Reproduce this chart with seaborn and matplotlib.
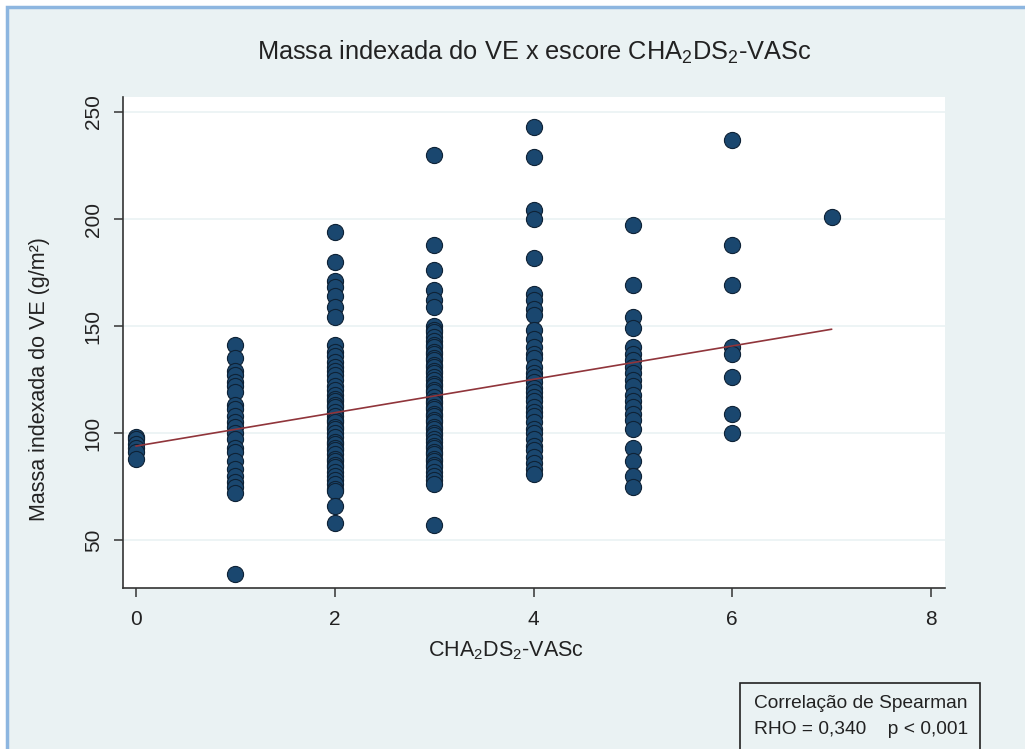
import numpy as np
import pandas as pd
import matplotlib
matplotlib.use("Agg")
import matplotlib.pyplot as plt
from matplotlib.patches import Rectangle
import seaborn as sns

# LV mass index (g/m²) grouped by CHA2DS2-VASc score
mass_score0 = [98, 97, 95, 93, 91, 88]
mass_score1 = [141, 135, 129, 127, 124, 122, 119, 113, 111, 108, 105, 103, 100,
               97, 93, 91, 87, 83, 80, 77, 75, 72, 34]
mass_score2 = [194, 180, 171, 168, 164, 159, 154, 141, 138, 136, 133, 131, 129,
               127, 125, 122, 120, 118, 116, 115, 113, 112, 110, 108, 106, 105,
               103, 102, 100, 98, 96, 95, 93, 92, 90, 88, 87, 85, 84, 82, 80, 78,
               76, 74, 73, 66, 58]
mass_score3 = [230, 188, 176, 167, 162, 159, 150, 148, 147, 145, 143, 141, 140,
               138, 137, 135, 134, 132, 131, 129, 128, 126, 125, 123, 122, 120,
               119, 117, 115, 114, 112, 111, 109, 108, 106, 105, 103, 102, 100,
               99, 97, 96, 94, 93, 91, 90, 88, 87, 85, 84, 82, 80, 78, 76, 57]
mass_score4 = [243, 229, 204, 200, 182, 165, 162, 158, 155, 148, 144, 140, 137,
               135, 131, 128, 126, 124, 121, 119, 117, 115, 112, 110, 108, 105,
               102, 100, 97, 94, 92, 89, 86, 83, 81]
mass_score5 = [197, 169, 154, 149, 140, 137, 134, 131, 128, 125, 122, 118, 115,
               112, 109, 106, 102, 93, 87, 80, 75]
mass_score6 = [237, 188, 169, 140, 137, 126, 109, 100]
mass_score7 = [201]

scores = [0, 1, 2, 3, 4, 5, 6, 7]
mass_groups = [mass_score0, mass_score1, mass_score2, mass_score3,
               mass_score4, mass_score5, mass_score6, mass_score7]

# Linear fit line (fitted values at the ends of the score range)
fit_score = [0, 7]
fit_mass = [93.9, 148.5]

x_ticks = [0, 2, 4, 6, 8]
y_ticks = [50, 100, 150, 200, 250]

title_text = "Massa indexada do VE x escore CHA$_2$DS$_2$-VASc"
x_label = "CHA$_2$DS$_2$-VASc"
y_label = "Massa indexada do VE (g/m²)"
note_lines = ["Correlação de Spearman", "RHO = 0,340    p < 0,001"]

df = pd.DataFrame({
    "score": np.concatenate([[s] * len(g) for s, g in zip(scores, mass_groups)]),
    "mass": np.concatenate(mass_groups),
})
fit_df = pd.DataFrame({"score": fit_score, "mass": fit_mass})

sns.set_theme(style="white")
plt.rcParams["font.family"] = ["Liberation Sans", "DejaVu Sans"]
plt.rcParams["mathtext.default"] = "regular"

bg = "#EAF2F3"
ink = "#222222"
W, H = 1025, 749
fig = plt.figure(figsize=(W / 100, H / 100), dpi=100, facecolor="white")

# Light panel with a blue frame line on top and left
fig.patches.append(Rectangle((7 / W, -0.05), 1.1, 1 - 6.5 / H + 0.05,
                             transform=fig.transFigure, facecolor=bg,
                             edgecolor="#8DB6E0", linewidth=2.5, zorder=-5))

ax = fig.add_axes([123 / W, 1 - 588 / H, (945 - 123) / W, (588 - 97) / H])
ax.set_facecolor("white")

sns.scatterplot(data=df, x="score", y="mass", ax=ax, s=135,
                color="#1A476F", edgecolor="#0E2236", linewidth=0.8,
                zorder=3, legend=False)
sns.lineplot(data=fit_df, x="score", y="mass", ax=ax, color="#90353B",
             linewidth=1.2, zorder=4)

ax.set_xlim(-0.13, 8.14)
ax.set_ylim(27.6, 257)
ax.set_xticks(x_ticks)
ax.set_yticks(y_ticks)
ax.grid(axis="y", color=bg, linewidth=1.2, zorder=0)
ax.grid(axis="x", visible=False)

for side in ["top", "right"]:
    ax.spines[side].set_visible(False)
for side in ["left", "bottom"]:
    ax.spines[side].set_color("#333333")
    ax.spines[side].set_linewidth(1.2)

ax.tick_params(axis="both", which="major", length=6.5, width=1.1,
               color="#333333", labelsize=15, labelcolor=ink,
               left=True, bottom=True)
ax.tick_params(axis="x", pad=9)
ax.tick_params(axis="y", pad=8)
for lbl in ax.get_yticklabels():
    lbl.set_rotation(90)
    lbl.set_va("center")

ax.set_xlabel(x_label, fontsize=15.5, color=ink)
ax.set_ylabel(y_label, fontsize=15.5, color=ink)
ax.xaxis.label.set_va("center")
ax.yaxis.label.set_va("center")
ax.xaxis.set_label_coords((506 - 123) / 822, (588 - 651) / 491)
ax.yaxis.set_label_coords((40 - 123) / 822, (588 - 379) / 491)
ax.set_title(title_text, fontsize=18.3, color=ink, pad=27)

# Correlation note box at the lower right
fig.patches.append(Rectangle((740 / W, -0.05), (980 - 740) / W,
                             1 - 683 / H + 0.05, transform=fig.transFigure,
                             facecolor=bg, edgecolor=ink, linewidth=1.2,
                             zorder=1))
fig.text(754 / W, 1 - 703 / H, note_lines[0], fontsize=13.8, color=ink,
         va="center", ha="left")
fig.text(754 / W, 1 - 730 / H, note_lines[1], fontsize=13.8, color=ink,
         va="center", ha="left")

fig.savefig("out.png", dpi=100, facecolor=fig.get_facecolor())
